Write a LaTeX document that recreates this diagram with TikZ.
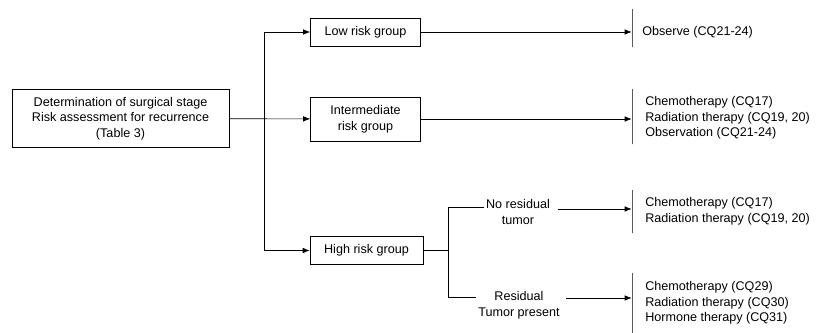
\documentclass[tikz,border=0pt]{standalone}
\usepackage{fontspec}
\setmainfont{Liberation Sans}
\usetikzlibrary{arrows.meta}
\begin{document}
\begin{tikzpicture}[x=1pt,y=-1pt,line width=0.6pt,
    font=\fontsize{12.6}{15.5}\selectfont,
    box/.style={draw,align=center,inner sep=0pt},
    branch/.style={align=center,inner sep=2pt},
    advice/.style={align=left,anchor=west,inner sep=0pt},
    bar/.style={draw,inner sep=0pt,minimum width=0pt},
    arr/.style={-{Latex[length=7pt,width=5.5pt]}}]
    \useasboundingbox (0,0) rectangle (819,332);
    \node[box,minimum width=217pt,minimum height=58pt] (stage) at (120.5,118.5) {Determination of surgical stage\\Risk assessment for recurrence\\(Table 3)};
    \node[box,minimum width=110pt,minimum height=28pt] (low) at (365.5,32) {Low risk group};
    \node[box,minimum width=110pt,minimum height=44pt] (mid) at (365.5,119) {Intermediate\\risk group};
    \node[box,minimum width=113pt,minimum height=28pt] (high) at (366.5,250.5) {High risk group};
    \node[bar,minimum height=38pt] (b1) at (632,28) {};
    \node[bar,minimum height=55pt] (b2) at (632,116.5) {};
    \node[bar,minimum height=43pt] (b3) at (632,211.5) {};
    \node[bar,minimum height=64pt] (b4) at (632,305) {};
    \node[advice] (obs) at (642,32) {Observe (CQ21-24)};
    \node[advice] (midtx) at (645,118) {Chemotherapy (CQ17)\\Radiation therapy (CQ19, 20)\\Observation (CQ21-24)};
    \node[advice] (norestx) at (645,211) {Chemotherapy (CQ17)\\Radiation therapy (CQ19, 20)};
    \node[advice] (restx) at (645,303) {Chemotherapy (CQ29)\\Radiation therapy (CQ30)\\Hormone therapy (CQ31)};
    \node[branch] (nores) at (518,212) {No residual\\tumor};
    \node[branch] (respr) at (519,305) {Residual\\Tumor present};
    \coordinate (fork) at (264,118.5);
    \draw[arr] (stage) -- (mid);
    \draw[arr] (fork) |- (low);
    \draw[arr] (fork) |- (high);
    \draw[arr] (low) -- (low -| b1.west);
    \draw[arr] (mid) -- (mid -| b2.west);
    \draw (high.east) -- ++(25,0) coordinate (split);
    \draw (split) |- ([yshift=5pt]nores.west);
    \draw (split) |- ([yshift=8pt]respr.west);
    \draw[arr,shorten <=6pt] ([yshift=3pt]nores.east) -- ([yshift=3pt]nores.east -| b3.west);
    \draw[arr,shorten <=4pt] ([yshift=7pt]respr.east) -- ([yshift=7pt]respr.east -| b4.west);
\end{tikzpicture}
\end{document}
